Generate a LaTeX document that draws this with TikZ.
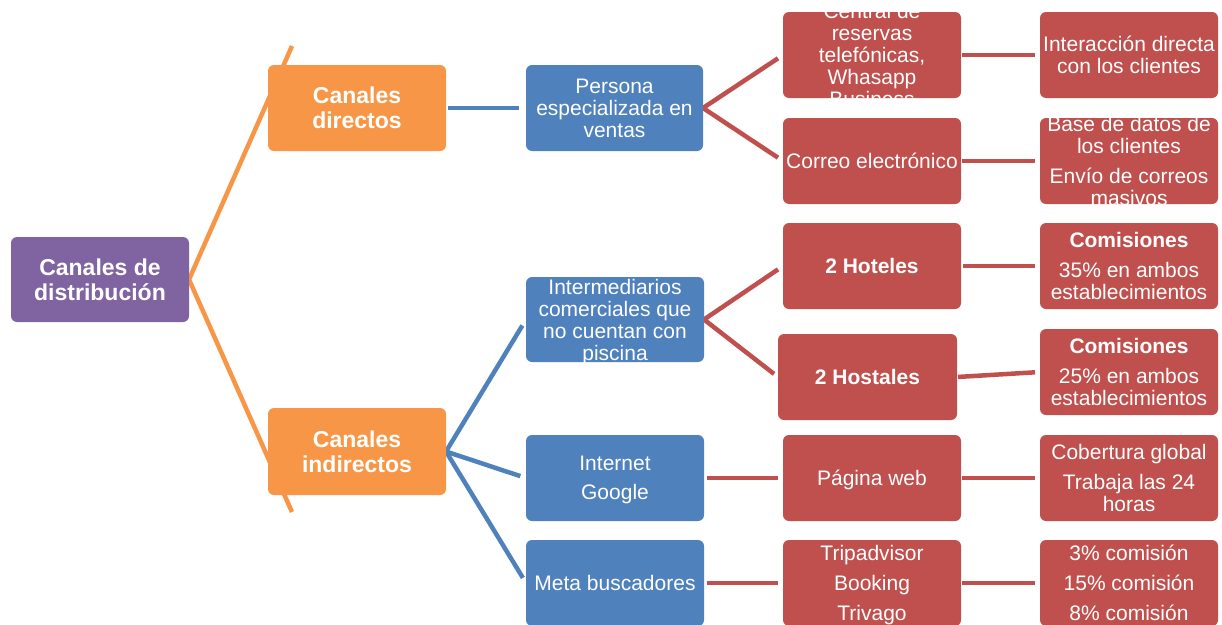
\documentclass[tikz,border=0pt]{standalone}
\usepackage{fontspec}
\setmainfont{Liberation Sans}
\usetikzlibrary{backgrounds}
\definecolor{cpur}{HTML}{8064A2}
\definecolor{corg}{HTML}{F79646}
\definecolor{cblu}{HTML}{4F81BD}
\definecolor{cred}{HTML}{C0504D}
\newcommand\rgf{\fontsize{21}{22}\selectfont}
\newcommand\bdf{\fontsize{21}{22}\selectfont\bfseries}
\newcommand\ttf{\fontsize{23}{25}\selectfont\bfseries}
% name, center, width, height, colour, font, text
\newcommand\bx[7]{%
  \node[box, fill=#5, minimum width=#3, minimum height=#4,
    path picture={\node[txt, font=#6] at (path picture bounding box.center) {#7};}] (#1) at (#2) {};}
\begin{document}
\begin{tikzpicture}[x=1pt,y=-1pt,
  box/.style={draw=none, rounded corners=6pt, inner sep=0pt, outer sep=0pt},
  txt/.style={text=white, align=center, inner sep=0pt, yshift=-3.5pt,
    execute at begin node=\strut, execute at end node=\strut},
  con/.style={line width=4.5pt},
  oline/.style={con, draw=corg},
  bline/.style={con, draw=cblu},
  rline/.style={con, draw=cred}]
\clip (0,0) rectangle (1222,624);
% level 0
\bx{root}{100,279.5}{178pt}{85pt}{cpur}{\ttf}{Canales de\\distribución}
% level 1
\bx{dir}{357,108}{178pt}{86pt}{corg}{\ttf}{Canales\\directos}
\bx{ind}{357,451.5}{178pt}{87pt}{corg}{\ttf}{Canales\\indirectos}
% level 2
\bx{pers}{614.5,108}{177pt}{86pt}{cblu}{\rgf}{Persona\\especializada en\\ventas}
\bx{inter}{615,319.5}{178pt}{85pt}{cblu}{\rgf}{Intermediarios\\comerciales que\\no cuentan con\\piscina}
\bx{inet}{615,478}{178pt}{86pt}{cblu}{\rgf}{Internet\\[7pt]Google}
\bx{meta}{615,583}{178pt}{86pt}{cblu}{\rgf}{Meta buscadores}
% level 3
\bx{central}{872,55}{178pt}{86pt}{cred}{\rgf}{Central de\\reservas\\telefónicas,\\Whasapp\\Business}
\bx{correo}{872,161}{178pt}{86pt}{cred}{\rgf}{Correo electrónico}
\bx{hot}{872,266}{178pt}{86pt}{cred}{\bdf}{2 Hoteles}
\bx{hos}{867.5,377}{179pt}{86pt}{cred}{\bdf}{2 Hostales}
\bx{pag}{872,478}{178pt}{86pt}{cred}{\rgf}{Página web}
\bx{trip}{872,583}{178pt}{86pt}{cred}{\rgf}{Tripadvisor\\[8pt]Booking\\[8pt]Trivago}
% level 4
\bx{interac}{1129,55}{178pt}{86pt}{cred}{\rgf}{Interacción directa\\con los clientes}
\bx{base}{1129,161}{178pt}{86pt}{cred}{\rgf}{Base de datos de\\los clientes\\[8pt]Envío de correos\\masivos}
\bx{com35}{1129,266}{178pt}{86pt}{cred}{\rgf}{{\bfseries Comisiones}\\[8pt]35\% en ambos\\establecimientos}
\bx{com25}{1129,372}{178pt}{86pt}{cred}{\rgf}{{\bfseries Comisiones}\\[8pt]25\% en ambos\\establecimientos}
\bx{cob}{1129,478}{178pt}{86pt}{cred}{\rgf}{Cobertura global\\[8pt]Trabaja las 24\\horas}
\bx{pct}{1129,583}{178pt}{86pt}{cred}{\rgf}{3\% comisión\\[8pt]15\% comisión\\[8pt]8\% comisión}
% free ends of the orange fan
\coordinate (otop) at (292,46);
\coordinate (obot) at (292,512);
\begin{scope}[on background layer]
\draw[oline] (otop) -- (root.east) -- (obot);
\draw[bline, shorten <=2pt, shorten >=7pt] (dir.east) -- (pers.west);
\draw[bline, shorten >=7pt] (ind.east) -- (inter.west);
\draw[bline, shorten >=6pt] (ind.east) -- (inet.west);
\draw[bline, shorten >=6pt] (ind.east) -- (meta.west);
\draw[rline, shorten <=6pt, shorten >=6pt] (central.west) -- (pers.east) -- (correo.west);
\draw[rline, shorten <=6pt, shorten >=5pt] (hot.west) -- (inter.east) -- (hos.west);
\draw[rline, shorten <=1pt, shorten >=5pt] (central.east) -- (interac.west);
\draw[rline, shorten <=1pt, shorten >=5pt] (correo.east) -- (base.west);
\draw[rline, shorten <=2pt, shorten >=5pt] (hot.east) -- (com35.west);
\draw[rline, shorten <=1pt, shorten >=5pt] (hos.east) -- (com25.west);
\draw[rline, shorten <=3pt, shorten >=5pt] (inet.east) -- (pag.west);
\draw[rline, shorten <=1pt, shorten >=5pt] (pag.east) -- (cob.west);
\draw[rline, shorten <=3pt, shorten >=5pt] (meta.east) -- (trip.west);
\draw[rline, shorten <=1pt, shorten >=5pt] (trip.east) -- (pct.west);
\end{scope}
\end{tikzpicture}
\end{document}
